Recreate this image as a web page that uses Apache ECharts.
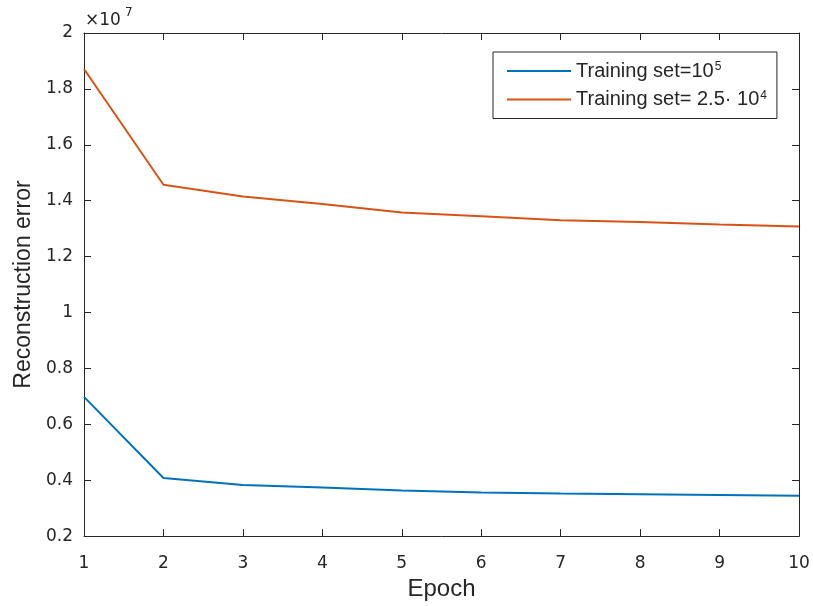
<!DOCTYPE html>
<html>
<head>
<meta charset="utf-8">
<script src="https://cdn.jsdelivr.net/npm/echarts@6/dist/echarts.min.js"></script>
<style>
  html, body { margin: 0; padding: 0; background: #ffffff; }
  #chart { width: 813px; height: 606px; }
</style>
</head>
<body>
<div id="chart"></div>
<script>
// Epochs on the x axis
const epochs = [1, 2, 3, 4, 5, 6, 7, 8, 9, 10];
// Reconstruction error, in units of 1e7
const errLarge = [0.698, 0.408, 0.383, 0.374, 0.363, 0.356, 0.352, 0.350, 0.347, 0.344];
const errSmall = [1.871, 1.457, 1.415, 1.388, 1.358, 1.344, 1.330, 1.324, 1.315, 1.308];
const seriesNames = ['Training set=10^5', 'Training set= 2.5\u00b7 10^4'];
const yTicks = { min: 0.2, max: 2, interval: 0.2 };

const axisColor = '#262626';
const font = 'Liberation Sans, Arial, Helvetica, sans-serif';
const tickFont = 'DejaVu Sans, Verdana, sans-serif';

const chart = echarts.init(document.getElementById('chart'), null, { renderer: 'canvas' });

function pairs(vals) { return epochs.map((e, i) => [e, vals[i]]); }

// mirrored axes on the top and right close the box, ticks only
const hiddenAxisCommon = {
  axisLine: { show: true, lineStyle: { color: axisColor, width: 1 } },
  axisTick: { show: true, inside: true, length: 7, lineStyle: { color: axisColor } },
  axisLabel: { show: false },
  splitLine: { show: false }
};

chart.setOption({
  backgroundColor: '#ffffff',
  animation: false,
  grid: { left: 84, right: 14, top: 33, bottom: 69, containLabel: false },
  xAxis: [
    {
      type: 'value', min: 1, max: 10, interval: 1,
      position: 'bottom',
      name: 'Epoch', nameLocation: 'middle', nameGap: 35,
      nameTextStyle: { fontFamily: font, fontSize: 24, color: axisColor },
      axisLine: { show: true, onZero: false, lineStyle: { color: axisColor, width: 1 } },
      axisTick: { show: true, inside: true, length: 7, lineStyle: { color: axisColor } },
      axisLabel: { fontFamily: tickFont, fontSize: 17, color: axisColor, margin: 19 },
      splitLine: { show: false }
    },
    Object.assign({ type: 'value', min: 1, max: 10, interval: 1, position: 'top' }, hiddenAxisCommon)
  ],
  yAxis: [
    {
      type: 'value', min: yTicks.min, max: yTicks.max, interval: yTicks.interval,
      position: 'left',
      name: 'Reconstruction error', nameLocation: 'middle', nameGap: 49,
      nameTextStyle: { fontFamily: font, fontSize: 23, color: axisColor },
      axisLine: { show: true, onZero: false, lineStyle: { color: axisColor, width: 1 } },
      axisTick: { show: true, inside: true, length: 7, lineStyle: { color: axisColor } },
      axisLabel: {
        fontFamily: tickFont, fontSize: 17, color: axisColor, margin: 11,
        padding: [7, 0, 0, 0],
        formatter: v => String(Math.round(v * 10) / 10)
      },
      splitLine: { show: false }
    },
    Object.assign({ type: 'value', min: yTicks.min, max: yTicks.max, interval: yTicks.interval, position: 'right' }, hiddenAxisCommon)
  ],
  legend: {
    left: 493, top: 52,
    orient: 'vertical',
    backgroundColor: '#ffffff',
    borderColor: axisColor, borderWidth: 1, borderRadius: 0,
    padding: [9, 10, 9, 14],
    itemGap: 8.5, itemWidth: 64, itemHeight: 2,
    icon: 'rect',
    data: seriesNames,
    formatter: name => {
      const m = name.split('^');
      return '{t|' + m[0] + '}{s|' + m[1] + '}';
    },
    textStyle: {
      fontFamily: font, color: axisColor,
      rich: {
        t: { fontFamily: font, fontSize: 20, lineHeight: 22, color: axisColor },
        s: { fontFamily: font, fontSize: 12, color: axisColor, padding: [0, 0, 8, 1] }
      }
    }
  },
  graphic: [
    {
      type: 'text', left: 85, top: 12,
      style: { text: '\u00d710', fontFamily: tickFont, fontSize: 17, fill: axisColor }
    },
    {
      type: 'text', left: 125, top: 7,
      style: { text: '7', fontFamily: tickFont, fontSize: 12, fill: axisColor }
    }
  ],
  series: [
    {
      name: seriesNames[0], type: 'line', data: pairs(errLarge),
      symbol: 'none', color: '#0072BD',
      lineStyle: { width: 2, color: '#0072BD' }
    },
    {
      name: seriesNames[1], type: 'line', data: pairs(errSmall),
      symbol: 'none', color: '#D95319',
      lineStyle: { width: 2, color: '#D95319' }
    }
  ]
});
</script>
</body>
</html>
